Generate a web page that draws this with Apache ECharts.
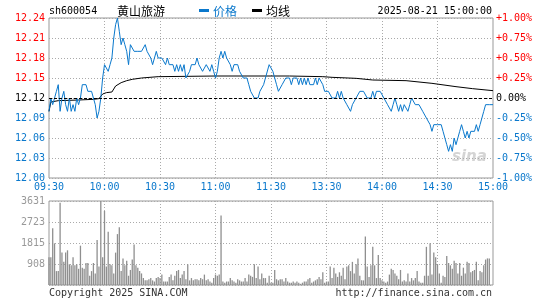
<!DOCTYPE html>
<html><head><meta charset="utf-8">
<script src="https://cdn.jsdelivr.net/npm/echarts@6/dist/echarts.min.js"></script>
<style>html,body{margin:0;padding:0;background:#fff}#c{width:545px;height:300px}</style>
</head><body><div id="c"></div>
<script>
const stockCode = "sh600054";
const stockName = "黄山旅游";
const dateText = "2025-08-21 15:00:00";
const timeTicks = ["09:30","10:00","10:30","11:00","11:30","13:30","14:00","14:30","15:00"];
const priceTicks = ["12.00","12.03","12.06","12.09","12.12","12.15","12.18","12.21","12.24"];
const pctTicks = ["-1.00%","-0.75%","-0.50%","-0.25%","0.00%","+0.25%","+0.50%","+0.75%","+1.00%"];
const volTicks = ["","908","1815","2723","3631"];
const prevClose = 12.12;

// minute prices 09:30 .. 15:00 (241 points)
const prices = [
 12.10,12.12,12.11,12.12,12.13,12.14,12.10,12.12,12.13,12.11,12.10,12.12,12.10,12.11,12.10,12.12,12.11,12.12,12.14,12.14,12.14,12.13,12.13,12.13,12.12,12.11,12.09,12.10,12.12,12.15,
 12.17,12.17,12.16,12.17,12.18,12.21,12.23,12.24,12.22,12.20,12.21,12.20,12.19,12.17,12.20,12.20,12.19,12.19,12.19,12.19,12.19,12.19,12.20,12.19,12.19,12.18,12.17,12.18,12.19,12.18,
 12.18,12.18,12.18,12.17,12.18,12.17,12.17,12.17,12.16,12.17,12.16,12.17,12.16,12.17,12.15,12.15,12.16,12.17,12.17,12.17,12.18,12.17,12.17,12.16,12.16,12.17,12.17,12.16,12.17,12.16,
 12.15,12.16,12.18,12.19,12.18,12.19,12.18,12.18,12.17,12.16,12.17,12.17,12.17,12.16,12.16,12.15,12.15,12.15,12.14,12.13,12.13,12.12,12.12,12.12,12.13,12.13,12.14,12.15,12.15,12.17,12.17,
 12.16,12.15,12.14,12.13,12.13,12.14,12.14,12.15,12.15,
 12.15,12.14,12.15,12.15,12.15,12.14,12.15,12.14,12.15,12.14,12.15,12.14,12.14,12.14,12.15,12.14,12.15,12.15,12.14,12.13,12.13,
 12.13,12.13,12.12,12.12,12.12,12.13,12.12,12.13,12.12,12.12,12.11,12.11,12.10,12.11,12.11,12.12,12.12,12.13,12.13,12.13,12.13,12.12,12.12,12.12,12.13,12.12,12.13,12.13,12.13,12.13,
 12.12,12.12,12.11,12.11,12.10,12.11,12.12,12.11,12.10,12.11,12.10,12.11,12.11,12.10,12.11,12.12,12.12,12.11,12.11,12.11,12.11,12.10,12.10,12.09,12.09,12.08,12.07,12.08,12.08,12.08,
 12.08,12.08,12.07,12.06,12.05,12.04,12.05,12.04,12.06,12.05,12.06,12.07,12.08,12.07,12.06,12.07,12.06,12.07,12.07,12.07,12.08,12.07,12.08,12.09,12.10,12.11,12.11,12.11,12.11,12.11
];

// average price line, sampled [minute index, value]
const avgPoints = [[0,12.100],[1,12.114],[5,12.116],[16,12.117],[24,12.118],[27,12.119],[29,12.126],[31,12.128],[34,12.129],[35,12.132],[36,12.138],[37,12.141],[39,12.143],[42,12.146],[45,12.148],[50,12.150],[59,12.152],[90,12.153],[130,12.153],[148,12.152],[153,12.151],[166,12.1495],[175,12.147],[193,12.146],[207,12.142],[220,12.137],[229,12.134],[240,12.131]];

// minute volume
const volumes = [
 1200,1200,2450,1800,600,600,3550,1400,1000,1400,1500,900,850,1200,850,900,700,1700,750,700,950,950,400,600,950,500,1950,800,3631,1200,
 3200,800,2300,900,850,500,1400,2200,2500,600,1150,850,1050,400,650,1100,1750,850,750,600,500,300,200,200,250,300,200,150,300,350,
 300,450,150,150,150,350,450,200,400,600,650,300,450,600,250,900,200,300,200,250,250,200,300,250,450,200,250,150,100,300,
 450,400,450,3000,150,100,150,150,300,200,150,100,250,200,150,150,300,150,450,400,350,900,300,800,250,500,300,300,100,400,100,
 100,650,250,200,250,250,150,300,150,100,100,150,100,150,100,50,100,150,150,250,300,100,150,200,250,350,250,550,100,150,
 150,800,300,750,500,350,550,400,750,250,800,850,600,1000,500,900,1150,400,200,200,2100,800,350,850,1650,850,300,1300,300,200,
 150,100,150,450,700,650,500,400,250,650,150,200,150,500,150,300,200,300,600,150,100,100,400,1650,400,1800,450,1400,1200,900,
 500,100,400,350,1250,950,850,700,1050,950,500,950,400,750,500,1000,950,550,600,650,1000,200,600,550,850,1100,1150,1150,0,0
];

const BLUE = '#0a78cc', RED = '#ff0000', GRAY = '#999';
const MONO = '"DejaVu Sans Mono", "Liberation Mono", monospace';
const minutes = prices.map((_, i) => String(i));
const colorFor = v => (Math.abs(v) < 1e-6 ? '#000' : (v > 0 ? RED : BLUE));

const chart = echarts.init(document.getElementById('c'), null, {renderer: 'canvas'});
chart.setOption({
  animation: false,
  backgroundColor: '#fff',
  grid: [
    {left: 49, right: 52, top: 18, height: 160, show: true, borderColor: GRAY, borderWidth: 1},
    {left: 49, right: 52, top: 201, height: 84, show: true, borderColor: GRAY, borderWidth: 1}
  ],
  xAxis: [
    {type: 'category', gridIndex: 0, data: minutes, boundaryGap: false,
     axisLine: {show: false}, axisTick: {show: false},
     axisLabel: {interval: i => i % 30 === 0, formatter: (v, i) => timeTicks[i / 30], color: BLUE,
                 fontFamily: MONO, fontSize: 10, margin: 4, showMinLabel: true, showMaxLabel: true},
     splitLine: {show: true, interval: i => i % 30 === 0 && i > 0 && i < 240, lineStyle: {color: '#aaa', type: [1, 2]}}},
    {type: 'category', gridIndex: 1, data: minutes, boundaryGap: false,
     axisLine: {show: false}, axisTick: {show: false}, axisLabel: {show: false},
     splitLine: {show: true, interval: i => i % 30 === 0 && i > 0 && i < 240, lineStyle: {color: '#aaa', type: [1, 2]}}}
  ],
  yAxis: [
    {type: 'value', gridIndex: 0, min: 12.00, max: 12.24, interval: 0.03, position: 'left',
     axisLine: {show: false}, axisTick: {show: false},
     axisLabel: {formatter: v => priceTicks[Math.round((v - 12.00) / 0.03)],
                 color: v => colorFor(v - prevClose), fontFamily: MONO, fontSize: 10, margin: 4},
     splitLine: {show: true, lineStyle: {color: '#aaa', type: [1, 2]}}},
    {type: 'value', gridIndex: 0, min: -1, max: 1, interval: 0.25, position: 'right',
     axisLine: {show: false}, axisTick: {show: false},
     axisLabel: {formatter: v => pctTicks[Math.round((v + 1) / 0.25)],
                 color: v => colorFor(v), fontFamily: MONO, fontSize: 10, margin: 3},
     splitLine: {show: false}},
    {type: 'value', gridIndex: 1, min: 0, max: 3631, interval: 3631 / 4, position: 'left',
     axisLine: {show: false}, axisTick: {show: false},
     axisLabel: {formatter: v => volTicks[Math.round(v / (3631 / 4))], color: GRAY, fontFamily: MONO, fontSize: 10, margin: 4},
     splitLine: {show: true, lineStyle: {color: '#aaa', type: [1, 2]}}}
  ],
  series: [
    {name: '价格', type: 'line', xAxisIndex: 0, yAxisIndex: 0, data: prices, symbol: 'none',
     lineStyle: {color: BLUE, width: 1}, z: 3,
     markLine: {silent: true, symbol: 'none', label: {show: false}, animation: false,
                lineStyle: {color: '#000', type: [3, 2], width: 1}, data: [{yAxis: prevClose}]}},
    {name: '均线', type: 'line', xAxisIndex: 0, yAxisIndex: 0, data: avgPoints, symbol: 'none',
     lineStyle: {color: '#000', width: 1}, z: 2},
    {name: 'vol', type: 'bar', xAxisIndex: 1, yAxisIndex: 2, data: volumes, barWidth: 1.3,
     itemStyle: {color: '#8f8f8f'}}
  ],
  graphic: [
    {type: 'text', x: 49, y: 11, style: {text: stockCode, font: '10px ' + MONO, fill: '#000', verticalAlign: 'middle'}},
    {type: 'text', x: 117, y: 11, style: {text: stockName, font: '12px "Noto Sans CJK SC"', fill: '#000', verticalAlign: 'middle'}},
    {type: 'rect', shape: {x: 199, y: 9, width: 10, height: 3}, style: {fill: BLUE}},
    {type: 'text', x: 213, y: 11, style: {text: '价格', font: '12px "Noto Sans CJK SC"', fill: BLUE, verticalAlign: 'middle'}},
    {type: 'rect', shape: {x: 252, y: 9, width: 10, height: 3}, style: {fill: '#000'}},
    {type: 'text', x: 266, y: 11, style: {text: '均线', font: '12px "Noto Sans CJK SC"', fill: '#000', verticalAlign: 'middle'}},
    {type: 'text', x: 492, y: 11, style: {text: dateText, font: '10px ' + MONO, fill: '#000', align: 'right', verticalAlign: 'middle'}},
    {type: 'text', x: 49, y: 293, style: {text: 'Copyright 2025 SINA.COM', font: '10px ' + MONO, fill: '#333', verticalAlign: 'middle'}},
    {type: 'text', x: 492, y: 293, style: {text: 'http://finance.sina.com.cn', font: '10px ' + MONO, fill: '#333', align: 'right', verticalAlign: 'middle'}},
    {type: 'text', x: 452, y: 157, style: {text: 'sina', font: 'italic bold 15px "DejaVu Sans"', fill: '#d4d4d4', verticalAlign: 'middle'}}
  ]
});
</script></body></html>
